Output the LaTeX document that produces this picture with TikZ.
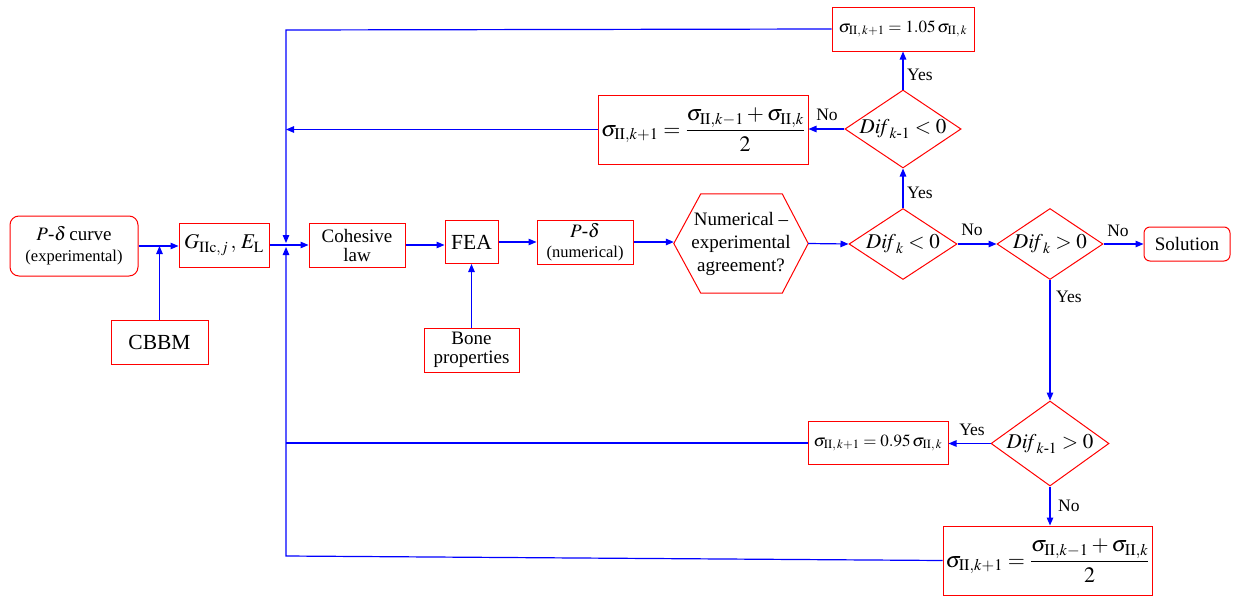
\documentclass[tikz,border=0pt]{standalone}
\usepackage{amsmath}
\usepackage{mathptmx}
\usepackage{fontspec}
\setmainfont{Liberation Serif}
\usetikzlibrary{arrows.meta,shapes.geometric}
\newcommand{\fsz}[2]{\fontsize{#1}{#2}\selectfont}
\begin{document}
\begin{tikzpicture}[x=1pt,y=-1pt,
  box/.style={draw=red, line width=1pt, fill=white, inner sep=0pt, align=center, font=\fsz{19}{19}},
  rbox/.style={box, rounded corners=9pt},
  dia/.style={draw=red, line width=1pt, shape=diamond, aspect=1.5, inner sep=0pt, font=\fsz{21}{21}},
  conn/.style={blue, line width=1.2pt},
  arr/.style={conn, -{Triangle[length=8pt,width=6.5pt]}},
  lab/.style={font=\fsz{17.5}{18}, inner sep=0pt}]
\useasboundingbox (0,0) rectangle (1236,597);

% nodes
\node[rbox, minimum width=128, minimum height=60] (pcurve) at (74,246) {$P$-$\delta$\,curve\\[2pt]{\fsz{16.5}{17}(experimental)}};
\node[box, minimum width=90, minimum height=44, font=\fsz{21}{21}] (G) at (224,245) {$G_{\mathrm{IIc},j}\,,\,E_{\mathrm{L}}$};
\node[box, minimum width=97, minimum height=44, font=\fsz{21.5}{21.5}] (cbbm) at (159.5,342) {CBBM};
\node[box, minimum width=96, minimum height=44] (coh) at (357,245) {Cohesive\\law};
\node[box, minimum width=53, minimum height=43, font=\fsz{21.5}{21.5}] (fea) at (471.5,242) {FEA};
\node[box, minimum width=96, minimum height=44] (pnum) at (585,242) {$P$-$\delta$\\[1pt]{\fsz{16.5}{17}(numerical)}};
\node[box, minimum width=95, minimum height=44] (bone) at (471.5,350) {Bone\\properties};
\node[inner sep=0pt, minimum width=134, minimum height=99, align=center, font=\fsz{19}{23}] (hex) at (741,243.5) {Numerical --\\experimental\\agreement?};
\draw[red, line width=1pt, line join=miter] (hex.west) -- ([xshift=27pt]hex.north west) -- ([xshift=-26pt]hex.north east) -- (hex.east) -- ([xshift=-26pt]hex.south east) -- ([xshift=27pt]hex.south west) -- cycle;

\node[dia, minimum width=108, minimum height=71] (d1) at (903,244) {$\mathit{Dif}_k < 0$};
\node[dia, minimum width=106, minimum height=71] (d2) at (1050,244) {$\mathit{Dif}_k > 0$};
\node[dia, minimum width=114, minimum height=78] (d4) at (903,129) {$\mathit{Dif}_{k\text{-}1} < 0$};
\node[dia, minimum width=118, minimum height=85] (d3) at (1050,443.5) {$\mathit{Dif}_{k\text{-}1} > 0$};
\node[rbox, minimum width=86, minimum height=34, rounded corners=6pt] (sol) at (1187,244) {Solution};

\node[box, minimum width=142, minimum height=44, font=\fsz{17}{17}] (top) at (903,29) {$\sigma_{\mathrm{II},\,k+1} = 1.05\,\sigma_{\mathrm{II},\,k}$};
\node[box, minimum width=210, minimum height=69, font=\fsz{22}{22}] (avgt) at (703,129.5) {$\sigma_{\mathrm{II},k+1} = \dfrac{\sigma_{\mathrm{II},k-1} + \sigma_{\mathrm{II},k}}{2}$};
\node[box, minimum width=140, minimum height=43, font=\fsz{17}{17}] (low) at (878,443) {$\sigma_{\mathrm{II},\,k+1} = 0.95\,\sigma_{\mathrm{II},\,k}$};
\node[box, minimum width=209, minimum height=69, font=\fsz{22}{22}] (avgb) at (1047.5,560.5) {$\sigma_{\mathrm{II},k+1} = \dfrac{\sigma_{\mathrm{II},k-1} + \sigma_{\mathrm{II},k}}{2}$};

\coordinate (J) at (286,245);
\coordinate (TL) at (286,30);
\coordinate (BL) at (286,556);
\coordinate (ML) at (286,443);

% connectors
\draw[arr] (pcurve.east) -- (pcurve.east -| G.west);
\draw[arr] (cbbm.north) -- (cbbm.north |- pcurve.east);
\draw[arr] (G.east) -- (coh.west);
\draw[arr, shorten >=2pt] (top.west) -- (TL) -- (J);
\draw[arr, shorten >=2pt] (avgb.west) -- (BL) -- (J);
\draw[arr] (avgt.west) -- (avgt.west -| TL);
\draw[conn] (low.west) -- (ML);
\draw[arr] (coh.east) -- (fea.west |- coh.east);
\draw[arr] (fea.east) -- (pnum.west |- fea.east);
\draw[arr] (bone.north) -- (fea.south);
\draw[arr] (pnum.east) -- (hex.west |- pnum.east);
\draw[arr] (hex.east) -- (d1.west);
\draw[arr] (d1.east) -- (d2.west);
\draw[arr] (d2.east) -- (sol.west);
\draw[arr] (d1.north) -- (d4.south);
\draw[arr] (d4.north) -- (top.south);
\draw[arr] (d4.west) -- (avgt.east |- d4.west);
\draw[arr] (d2.south) -- (d3.north);
\draw[arr] (d3.west) -- (low.east |- d3.west);
\draw[arr] (d3.south) -- (d3.south |- avgb.north);

% labels
\node[lab, anchor=west] (y1) at (907,193) {Yes};
\node[lab, anchor=west] (y2) at (907,75) {Yes};
\node[lab] (n1) at (827,115) {No};
\node[lab] (n2) at (972,230) {No};
\node[lab] (n3) at (1118,231) {No};
\node[lab, anchor=west] (y3) at (1056,297) {Yes};
\node[lab] (y4) at (972,430) {Yes};
\node[lab, anchor=west] (n4) at (1058,506) {No};
\end{tikzpicture}
\end{document}
